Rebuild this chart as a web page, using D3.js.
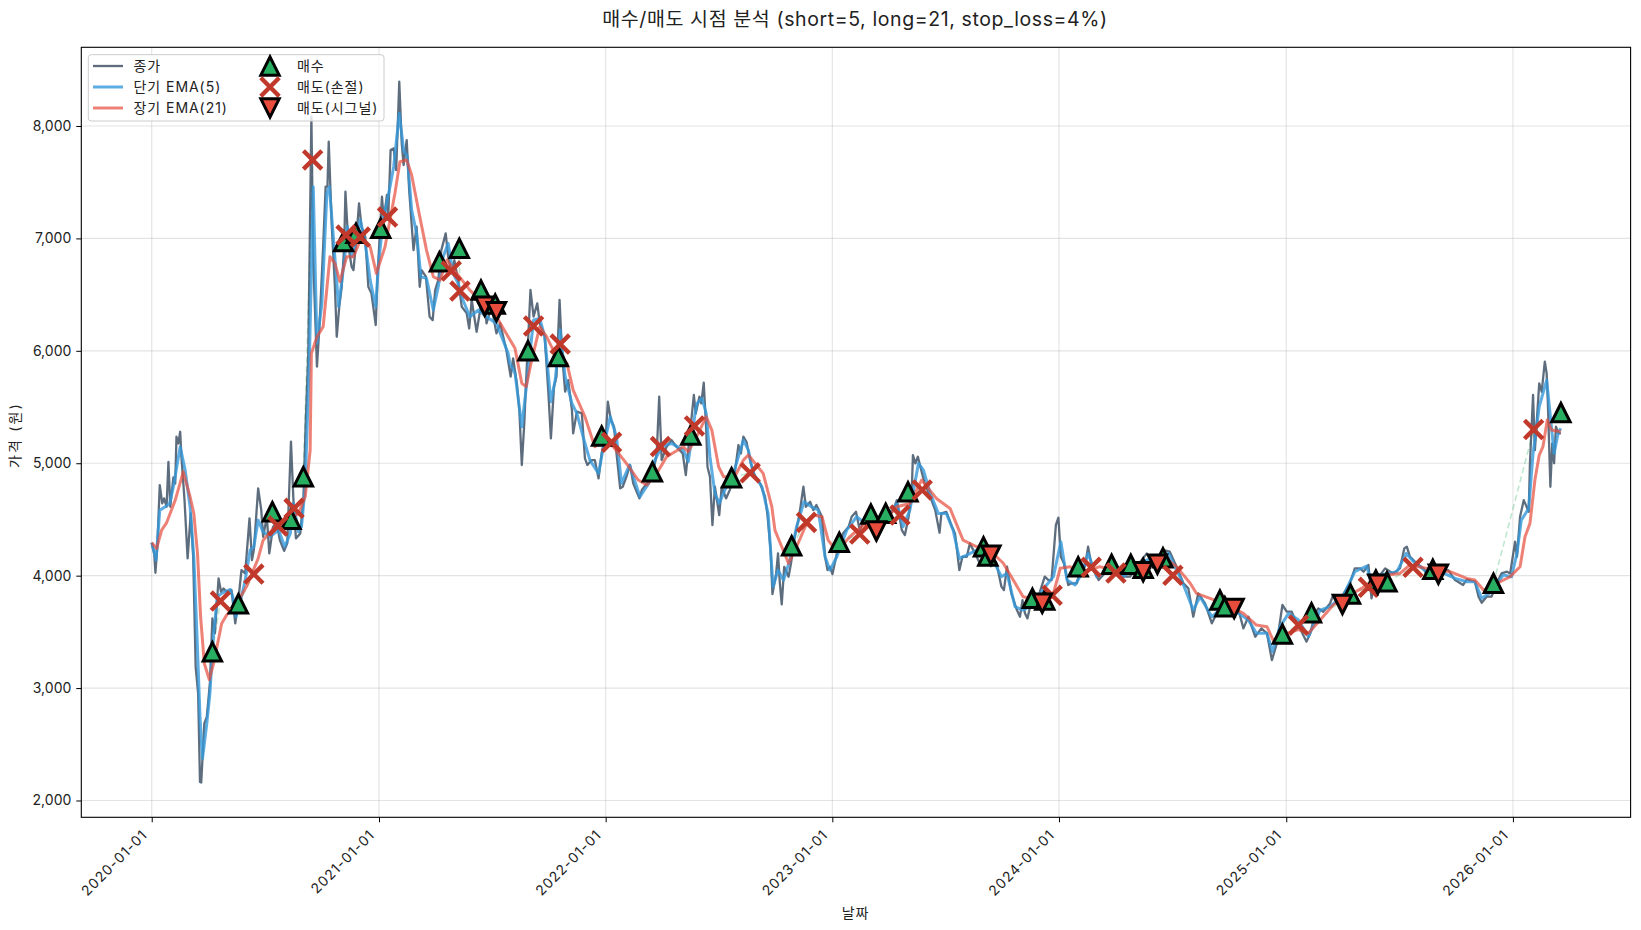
<!DOCTYPE html>
<html lang="ko">
<head>
<meta charset="utf-8">
<title>매수/매도 시점 분석</title>
<script src="https://cdn.jsdelivr.net/npm/d3@7"></script>
<style>
    body { margin: 0; background: #fff; }
    text { font-family: "Inter", "Noto Sans CJK KR", sans-serif; fill: #222; }
</style>
</head>
<body>
<svg></svg>
<script>
// values: [days since 2020-01-01, price in won]
var closePrice = [[0,4293],[4,4198],[6,4026],[9,4257],[13,4806],[17,4643],[20,4687],[24,4613],[27,5013],[30,4613],[35,4874],[38,4820],[40,5236],[43,5176],[46,5280],[48,5058],[53,4672],[58,4153],[63,4554],[67,4168],[71,3189],[75,2952],[78,2165],[80,2160],[85,2685],[89,2744],[94,3041],[98,3619],[102,3486],[108,3975],[112,3857],[116,3886],[121,3857],[129,3871],[135,3575],[140,3782],[145,4049],[151,4020],[158,4509],[162,4138],[165,4227],[172,4776],[177,4583],[180,4346],[186,4524],[190,4198],[196,4435],[202,4465],[207,4316],[214,4221],[219,4287],[225,5191],[229,4672],[233,4331],[240,4376],[245,4672],[249,5384],[253,5977],[258,8083],[261,6807],[267,5860],[271,6214],[277,6926],[281,7460],[284,7460],[286,7860],[291,7104],[296,6570],[299,6125],[303,6392],[307,6570],[311,6926],[313,7415],[318,6926],[323,6748],[326,6718],[330,6956],[335,7312],[339,7104],[345,7015],[350,6570],[355,6511],[362,6229],[365,6689],[372,7371],[375,7163],[380,7386],[382,7163],[386,7786],[391,7801],[395,7608],[400,8394],[404,7845],[407,7653],[412,7875],[416,7430],[423,6896],[428,7104],[433,6570],[436,6718],[443,6659],[449,6303],[454,6273],[458,6540],[463,6629],[468,6896],[475,7045],[479,6837],[485,6689],[489,6807],[495,6629],[501,6392],[509,6333],[513,6199],[517,6452],[525,6170],[536,6540],[541,6244],[549,6392],[557,6155],[563,6244],[573,6007],[580,5770],[584,5933],[590,5711],[594,5473],[598,4984],[602,5355],[605,5740],[609,6185],[612,6541],[617,6304],[623,6422],[627,6245],[635,6126],[641,5622],[645,5221],[650,5681],[654,5770],[659,6452],[663,5978],[668,5637],[673,5740],[679,5473],[681,5266],[687,5459],[695,5444],[700,5043],[704,4984],[711,5028],[716,5028],[722,4865],[727,5088],[734,5266],[737,5547],[742,5384],[747,5325],[751,5088],[757,4776],[761,4791],[767,4880],[773,4984],[778,4821],[788,4687],[792,4762],[800,4821],[808,4851],[816,5088],[820,5592],[824,5028],[832,5147],[840,5206],[848,5147],[858,5088],[863,4895],[867,5117],[876,5607],[879,5443],[885,5592],[888,5532],[892,5716],[896,5295],[898,4969],[902,4880],[906,4450],[910,4791],[917,4539],[921,4791],[928,4687],[934,4761],[942,4910],[948,5162],[952,5087],[956,5236],[961,5191],[968,4999],[975,4880],[983,4821],[991,4702],[995,4539],[1000,4227],[1003,3836],[1009,4020],[1012,4198],[1015,3931],[1018,3744],[1022,4079],[1029,3990],[1033,4109],[1039,4346],[1046,4524],[1053,4791],[1057,4613],[1064,4657],[1069,4583],[1074,4628],[1083,4524],[1088,4168],[1092,4049],[1096,4079],[1100,4014],[1107,4198],[1117,4376],[1126,4435],[1131,4524],[1138,4568],[1144,4405],[1151,4494],[1161,4435],[1171,4435],[1179,4494],[1187,4494],[1198,4583],[1204,4672],[1212,4405],[1217,4361],[1223,4524],[1228,4732],[1230,5073],[1234,4999],[1238,5058],[1242,4969],[1249,4821],[1258,4702],[1266,4583],[1273,4382],[1276,4554],[1284,4568],[1293,4435],[1298,4376],[1305,4049],[1310,4168],[1317,4168],[1322,4287],[1333,4168],[1338,4109],[1346,4213],[1354,4169],[1365,4110],[1373,3902],[1377,3872],[1382,4080],[1389,3843],[1398,3694],[1403,3635],[1407,3783],[1411,3665],[1415,3620],[1422,3783],[1430,3768],[1443,3991],[1449,3961],[1454,3961],[1461,4451],[1465,4516],[1469,4169],[1474,4110],[1481,3917],[1486,3932],[1495,3932],[1500,4050],[1508,4080],[1513,4258],[1519,4080],[1530,3961],[1540,4021],[1548,4050],[1559,4050],[1570,3991],[1581,3991],[1591,4080],[1608,4198],[1618,4110],[1629,4169],[1635,4228],[1645,4213],[1656,4080],[1667,3932],[1675,3887],[1683,3635],[1691,3843],[1702,3754],[1713,3576],[1721,3665],[1732,3754],[1742,3754],[1756,3694],[1764,3531],[1772,3635],[1783,3457],[1793,3531],[1802,3487],[1810,3249],[1818,3398],[1827,3739],[1834,3680],[1842,3680],[1850,3576],[1858,3501],[1866,3413],[1872,3487],[1880,3664],[1885,3709],[1893,3679],[1904,3753],[1909,3828],[1923,3813],[1936,3931],[1944,4065],[1953,4065],[1958,4035],[1966,4095],[1971,3798],[1977,3991],[1985,4006],[1993,4065],[2006,4020],[2017,4065],[2024,4243],[2028,4258],[2033,4169],[2044,4109],[2055,4065],[2063,3976],[2071,4065],[2082,4050],[2095,4050],[2106,3961],[2119,3917],[2125,3967],[2138,3946],[2144,3813],[2149,3759],[2157,3813],[2165,3813],[2173,3931],[2181,4020],[2190,4035],[2195,4020],[2203,4302],[2206,4168],[2211,4524],[2217,4672],[2225,4568],[2227,5001],[2232,5607],[2235,5117],[2242,5710],[2246,5636],[2251,5903],[2254,5799],[2256,5532],[2260,4791],[2263,5177],[2266,5000],[2269,5325],[2273,5266],[2277,5265]];

var emaShort = [[0,4293],[7,4138],[13,4583],[22,4613],[29,4643],[35,4791],[46,5147],[54,4939],[62,4613],[68,4168],[73,3486],[78,2744],[82,2374],[89,2685],[94,2952],[100,3486],[106,3812],[113,3842],[127,3877],[131,3812],[136,3634],[145,3812],[151,3960],[159,4227],[165,4257],[172,4494],[180,4390],[191,4346],[205,4405],[215,4257],[224,4376],[229,4643],[237,4390],[242,4435],[248,4791],[255,5977],[261,7460],[267,6066],[275,6422],[283,7401],[287,7460],[293,7045],[302,6392],[312,6837],[316,7104],[323,6837],[330,6985],[337,7163],[345,6956],[353,6629],[362,6392],[366,6748],[374,7163],[385,7460],[391,7638],[400,8112],[407,7786],[413,7727],[420,7252],[428,7045],[435,6659],[444,6644],[455,6363],[463,6570],[471,6837],[479,6956],[487,6689],[495,6600],[503,6452],[514,6303],[528,6363],[541,6303],[557,6244],[576,5977],[579,5889],[587,5800],[598,5325],[606,5711],[617,6274],[627,6289],[635,6126],[645,5547],[652,5740],[660,6185],[668,5770],[679,5533],[687,5444],[697,5236],[708,5028],[722,4910],[730,5147],[741,5414],[751,5236],[759,4821],[772,4984],[789,4702],[803,4821],[813,5028],[824,5147],[840,5177],[859,5117],[867,5014],[878,5444],[881,5532],[889,5577],[896,5443],[902,5058],[910,4732],[917,4643],[926,4761],[940,4910],[956,5206],[964,5117],[972,4910],[986,4791],[996,4554],[1004,3901],[1012,4049],[1021,3960],[1031,4138],[1042,4435],[1054,4657],[1066,4613],[1077,4583],[1088,4168],[1096,4049],[1107,4168],[1123,4405],[1139,4524],[1153,4465],[1171,4435],[1188,4524],[1204,4643],[1214,4435],[1225,4583],[1239,4999],[1247,4939],[1258,4732],[1271,4554],[1284,4554],[1295,4405],[1305,4153],[1317,4183],[1333,4227],[1354,4198],[1373,3991],[1382,4021],[1395,3724],[1408,3694],[1419,3724],[1446,3917],[1457,3991],[1469,4302],[1479,3961],[1492,3917],[1503,4021],[1513,4198],[1527,3991],[1543,4035],[1570,3991],[1591,4080],[1608,4139],[1629,4169],[1643,4198],[1664,3961],[1683,3694],[1694,3813],[1713,3635],[1732,3724],[1756,3665],[1772,3605],[1785,3487],[1802,3487],[1811,3324],[1823,3546],[1837,3665],[1853,3605],[1869,3457],[1888,3694],[1904,3724],[1926,3828],[1944,4035],[1963,4086],[1973,3902],[1985,4006],[2012,4035],[2027,4198],[2039,4124],[2063,4020],[2082,4035],[2106,3976],[2125,3946],[2138,3946],[2149,3798],[2165,3857],[2184,4006],[2197,3990],[2206,4198],[2213,4494],[2225,4598],[2232,5088],[2242,5503],[2254,5740],[2260,5414],[2266,5088],[2273,5280],[2277,5310]];

var emaLong = [[0,4293],[8,4242],[16,4405],[24,4470],[38,4672],[51,4924],[62,4702],[68,4554],[74,4198],[79,3634],[85,3219],[93,3076],[100,3219],[113,3575],[121,3649],[137,3753],[153,3901],[172,4153],[180,4316],[202,4450],[224,4509],[237,4554],[248,4702],[256,5117],[258,5977],[267,6125],[277,6214],[288,6837],[296,6778],[304,6615],[315,6837],[326,6837],[337,6985],[353,6926],[363,6689],[377,6926],[393,7401],[401,7682],[412,7697],[420,7564],[431,7252],[444,6896],[455,6659],[466,6629],[477,6807],[493,6689],[514,6540],[536,6422],[557,6303],[576,6125],[587,6022],[598,5711],[605,5681],[614,5918],[627,6215],[638,6126],[654,5948],[671,5889],[681,5651],[700,5414],[716,5147],[730,5192],[746,5147],[767,4999],[786,4851],[800,4806],[816,4910],[832,5058],[859,5147],[867,5102],[883,5265],[896,5414],[905,5295],[916,4969],[924,4880],[942,4880],[956,5028],[964,5073],[988,4910],[1002,4613],[1007,4405],[1018,4257],[1029,4109],[1042,4257],[1056,4435],[1069,4539],[1083,4524],[1093,4316],[1107,4213],[1128,4346],[1150,4450],[1177,4450],[1204,4613],[1225,4642],[1244,4850],[1268,4687],[1290,4598],[1311,4316],[1333,4257],[1354,4228],[1376,4110],[1389,3991],[1408,3813],[1435,3783],[1457,3843],[1468,4065],[1484,4080],[1500,4021],[1532,4080],[1570,4021],[1602,4050],[1635,4169],[1656,4080],[1678,3932],[1688,3843],[1710,3798],[1732,3754],[1764,3665],[1785,3561],[1802,3546],[1812,3427],[1834,3487],[1853,3520],[1869,3487],[1888,3605],[1909,3739],[1936,3828],[1955,3887],[1974,3961],[1996,4006],[2017,4020],[2033,4095],[2060,4065],[2098,4035],[2125,3976],[2138,3961],[2152,3872],[2179,3946],[2195,3991],[2211,4079],[2219,4346],[2227,4465],[2235,4850],[2242,5073],[2248,5147],[2255,5384],[2262,5295],[2277,5280]];

var buyPoints = [[98,3323],[140,3750],[195,4569],[225,4501],[245,4880],[310,6971],[330,7045],[370,7090],[465,6793],[497,6912],[532,6541],[555,6416],[608,6001],[657,5948],[727,5242],[809,4924],[871,5250],[937,4871],[1034,4266],[1111,4296],[1162,4548],[1186,4554],[1222,4746],[1344,4257],[1351,4175],[1423,3798],[1443,3783],[1497,4079],[1551,4100],[1582,4100],[1602,4065],[1634,4159],[1726,3783],[1734,3723],[1827,3480],[1874,3670],[1937,3836],[1978,3960],[1996,3946],[2070,4056],[2168,3931],[2277,5450]];

var sellStopPoints = [[111,3774],[165,4014],[204,4441],[230,4599],[260,7698],[314,7030],[337,7012],[381,7190],[484,6710],[498,6532],[617,6221],[660,6060],[743,5186],[822,5148],[877,5332],[967,4915],[1058,4474],[1144,4370],[1209,4539],[1245,4762],[1455,3825],[1518,4074],[1558,4023],[1650,4003],[1853,3560],[1966,3896],[2038,4074],[2233,5300]];

var sellSignalPoints = [[538,6398],[557,6348],[1171,4397],[1356,4183],[1439,3754],[1602,4035],[1625,4103],[1749,3709],[1924,3745],[1981,3925],[2079,4014]];

var yearTicks = [2020, 2021, 2022, 2023, 2024, 2025, 2026];
var priceTicks = [2000, 3000, 4000, 5000, 6000, 7000, 8000];
var legendLabels = ["종가", "단기 EMA(5)", "장기 EMA(21)", "매수", "매도(손절)", "매도(시그널)"];

var svgWidth = 1641,
    svgHeight = 930,
    left = 81.3,
    right = 1630.6,
    top_ = 47.3,
    bottom = 817.3;

var svg = d3.select("svg")
    .attr("width", svgWidth)
    .attr("height", svgHeight)
    .style("display", "block");

// the day numbers above were read with a slightly short ruler, this puts them back on the calendar
var dayStretch = 0.9966;
var start = Date.UTC(2020, 0, 1);
function toDate(day) {
    return new Date(start + day * dayStretch * 86400000);
}

var xScale = d3.scaleUtc()
    .domain([new Date(start - 113.4 * 86400000), new Date(start + 2381.5 * 86400000)])
    .range([left, right]);

var yScale = d3.scaleLinear()
    .domain([1850.5, 8700])
    .range([bottom, top_]);

var yearDates = yearTicks.map(function(y) { return new Date(Date.UTC(y, 0, 1)); });

// grid
svg.append("g").selectAll("line")
    .data(yearDates)
    .enter().append("line")
    .attr("x1", function(d) { return xScale(d); })
    .attr("x2", function(d) { return xScale(d); })
    .attr("y1", top_)
    .attr("y2", bottom)
    .attr("stroke", "#b0b0b0")
    .attr("stroke-opacity", 0.35)
    .attr("stroke-width", 1.1);

svg.append("g").selectAll("line")
    .data(priceTicks)
    .enter().append("line")
    .attr("x1", left)
    .attr("x2", right)
    .attr("y1", function(d) { return yScale(d); })
    .attr("y2", function(d) { return yScale(d); })
    .attr("stroke", "#b0b0b0")
    .attr("stroke-opacity", 0.35)
    .attr("stroke-width", 1.1);

// dashed line from each sell back to the last buy before it
var tradeLines = sellStopPoints.concat(sellSignalPoints).map(function(s) {
    var before = buyPoints.filter(function(b) { return b[0] <= s[0]; });
    return [before[before.length - 1], s];
});

svg.append("g").selectAll("line")
    .data(tradeLines)
    .enter().append("line")
    .attr("x1", function(d) { return xScale(toDate(d[0][0])); })
    .attr("y1", function(d) { return yScale(d[0][1]); })
    .attr("x2", function(d) { return xScale(toDate(d[1][0])); })
    .attr("y2", function(d) { return yScale(d[1][1]); })
    .attr("stroke", "#27ae60")
    .attr("stroke-opacity", 0.3)
    .attr("stroke-width", 1.6)
    .attr("stroke-dasharray", "6 3.5");

// price lines
var line = d3.line()
    .x(function(d) { return xScale(toDate(d[0])); })
    .y(function(d) { return yScale(d[1]); });

var lineStyles = [
    { data: closePrice, color: "#34495e", opacity: 0.8, width: 2.3 },
    { data: emaShort, color: "#3498db", opacity: 0.8, width: 3 },
    { data: emaLong, color: "#e74c3c", opacity: 0.7, width: 3 }
];

svg.append("g").selectAll("path")
    .data(lineStyles)
    .enter().append("path")
    .attr("d", function(d) { return line(d.data); })
    .attr("fill", "none")
    .attr("stroke", function(d) { return d.color; })
    .attr("stroke-opacity", function(d) { return d.opacity; })
    .attr("stroke-width", function(d) { return d.width; })
    .attr("stroke-linejoin", "round");

// marker shapes
var h = 9.2;
var triUp = "M0," + (-h) + "L" + (-h) + "," + h + "L" + h + "," + h + "Z";
var triDown = "M0," + h + "L" + (-h) + "," + (-h) + "L" + h + "," + (-h) + "Z";
var cross = "M" + (-h) + "," + (-h) + "L" + h + "," + h + "M" + (-h) + "," + h + "L" + h + "," + (-h);

function styleBuy(sel) {
    sel.attr("d", triUp).attr("fill", "#27ae60").attr("stroke", "#000").attr("stroke-width", 3);
}
function styleStop(sel) {
    sel.attr("d", cross).attr("fill", "none").attr("stroke", "#c0392b").attr("stroke-width", 4.4);
}
function styleSignal(sel) {
    sel.attr("d", triDown).attr("fill", "#e74c3c").attr("stroke", "#000").attr("stroke-width", 3);
}

function drawMarkers(data, styler) {
    svg.append("g").selectAll("path")
        .data(data)
        .enter().append("path")
        .attr("transform", function(d) {
            return "translate(" + xScale(toDate(d[0])) + "," + yScale(d[1]) + ")";
        })
        .call(styler);
}

drawMarkers(buyPoints, styleBuy);
drawMarkers(sellStopPoints, styleStop);
drawMarkers(sellSignalPoints, styleSignal);

// frame and axes
svg.append("rect")
    .attr("x", left)
    .attr("y", top_)
    .attr("width", right - left)
    .attr("height", bottom - top_)
    .attr("fill", "none")
    .attr("stroke", "#000")
    .attr("stroke-width", 1.1);

var xAxis = d3.axisBottom(xScale)
    .tickValues(yearDates)
    .tickFormat(d3.utcFormat("%Y-%m-%d"))
    .tickSize(5);

var xAxisG = svg.append("g")
    .attr("transform", "translate(0," + bottom + ")")
    .call(xAxis);
xAxisG.select(".domain").remove();
xAxisG.selectAll("text")
    .attr("font-size", 14)
    .attr("letter-spacing", 0.95)
    .attr("text-anchor", "end")
    .attr("y", 0)
    .attr("dy", 0)
    .attr("transform", "translate(-4,18.5) rotate(-45)");

var yAxis = d3.axisLeft(yScale)
    .tickValues(priceTicks)
    .tickFormat(d3.format(","))
    .tickSize(5)
    .tickPadding(5);

var yAxisG = svg.append("g")
    .attr("transform", "translate(" + left + ",0)")
    .call(yAxis);
yAxisG.select(".domain").remove();
yAxisG.selectAll("text").attr("font-size", 14);

svg.append("text")
    .attr("x", 855)
    .attr("y", 26)
    .attr("text-anchor", "middle")
    .attr("font-size", 19.5)
    .attr("letter-spacing", 0.6)
    .text("매수/매도 시점 분석 (short=5, long=21, stop_loss=4%)");

svg.append("text")
    .attr("x", 855.5)
    .attr("y", 918)
    .attr("text-anchor", "middle")
    .attr("font-size", 14)
    .attr("letter-spacing", 0.8)
    .text("날짜");

svg.append("text")
    .attr("transform", "translate(20,435) rotate(-90)")
    .attr("text-anchor", "middle")
    .attr("font-size", 14)
    .attr("letter-spacing", 2.2)
    .text("가격 (원)");

// legend
var legend = svg.append("g");
var rowY = [66, 87, 108];

legend.append("rect")
    .attr("x", 88.3)
    .attr("y", 54.7)
    .attr("width", 295.7)
    .attr("height", 66.3)
    .attr("rx", 3)
    .attr("fill", "#fff")
    .attr("fill-opacity", 0.8)
    .attr("stroke", "#ccc")
    .attr("stroke-width", 1);

legend.selectAll("line")
    .data(lineStyles)
    .enter().append("line")
    .attr("x1", 93)
    .attr("x2", 123)
    .attr("y1", function(d, i) { return rowY[i]; })
    .attr("y2", function(d, i) { return rowY[i]; })
    .attr("stroke", function(d) { return d.color; })
    .attr("stroke-opacity", function(d) { return d.opacity; })
    .attr("stroke-width", function(d) { return d.width; });

[styleBuy, styleStop, styleSignal].forEach(function(styler, i) {
    legend.append("path")
        .attr("transform", "translate(270," + rowY[i] + ")")
        .call(styler);
});

legend.selectAll("text")
    .data(legendLabels)
    .enter().append("text")
    .attr("x", function(d, i) { return i < 3 ? 133.5 : 297; })
    .attr("y", function(d, i) { return rowY[i % 3] + 4.8; })
    .attr("font-size", 14)
    .attr("letter-spacing", 0.95)
    .text(function(d) { return d; });
</script>
</body>
</html>
